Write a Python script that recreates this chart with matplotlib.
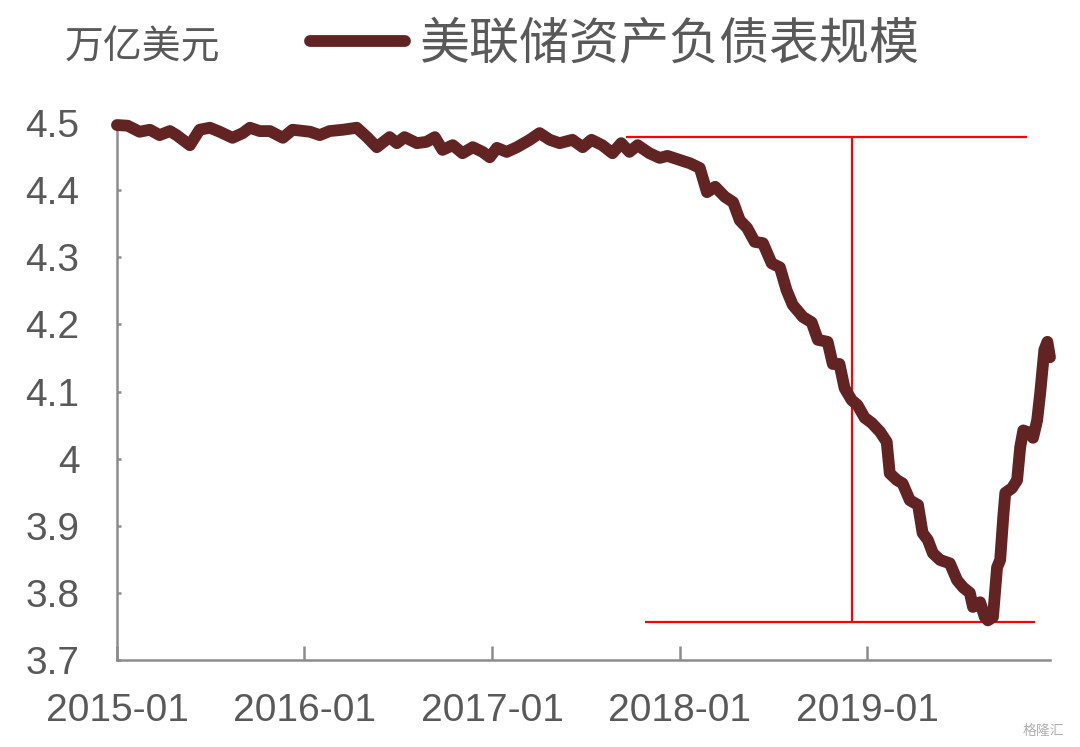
import pandas as pd
import numpy as np
import matplotlib
matplotlib.use('Agg')
import matplotlib.pyplot as plt
import matplotlib.dates as mdates

# 美联储资产负债表规模 (万亿美元)
dates = ['2015-01-01', '2015-01-22', '2015-02-14', '2015-03-06', '2015-03-25', '2015-04-14',
         '2015-04-27', '2015-05-23', '2015-06-11', '2015-07-01', '2015-07-20', '2015-08-14',
         '2015-09-03', '2015-09-17', '2015-10-06', '2015-10-26', '2015-11-20', '2015-12-09',
         '2016-01-12', '2016-01-31', '2016-02-19', '2016-03-16', '2016-04-12', '2016-05-02',
         '2016-05-21', '2016-06-15', '2016-06-29', '2016-07-14', '2016-08-07', '2016-08-26',
         '2016-09-11', '2016-09-26', '2016-10-16', '2016-11-04', '2016-11-24', '2016-12-13',
         '2016-12-27', '2017-01-10', '2017-01-29', '2017-02-18', '2017-03-15', '2017-04-03',
         '2017-04-23', '2017-05-12', '2017-06-06', '2017-06-26', '2017-07-13', '2017-08-03',
         '2017-08-23', '2017-09-09', '2017-09-25', '2017-10-11', '2017-11-03', '2017-11-23',
         '2017-12-08', '2018-01-01', '2018-01-21', '2018-02-09', '2018-02-23', '2018-03-11',
         '2018-03-30', '2018-04-15', '2018-04-28', '2018-05-12', '2018-05-27', '2018-06-12',
         '2018-06-29', '2018-07-15', '2018-07-28', '2018-08-09', '2018-08-29', '2018-09-15',
         '2018-09-27', '2018-10-16', '2018-10-26', '2018-11-08', '2018-11-18', '2018-12-02',
         '2018-12-13', '2018-12-27', '2019-01-10', '2019-01-26', '2019-02-08', '2019-02-14',
         '2019-02-28', '2019-03-11', '2019-03-25', '2019-04-10', '2019-04-19', '2019-04-29',
         '2019-05-09', '2019-05-23', '2019-06-11', '2019-06-25', '2019-07-07', '2019-07-20',
         '2019-07-26', '2019-08-09', '2019-08-18', '2019-08-24', '2019-09-03', '2019-09-11',
         '2019-09-17', '2019-09-23', '2019-09-27', '2019-10-10', '2019-10-20', '2019-10-26',
         '2019-11-01', '2019-11-14', '2019-11-20', '2019-11-28', '2019-12-04', '2019-12-12',
         '2019-12-18', '2019-12-23']
values = [4.497, 4.496, 4.487, 4.490, 4.482, 4.488,
          4.482, 4.467, 4.490, 4.493, 4.487, 4.478,
          4.485, 4.493, 4.488, 4.488, 4.478, 4.490,
          4.487, 4.482, 4.488, 4.490, 4.493, 4.479,
          4.464, 4.479, 4.470, 4.479, 4.470, 4.472,
          4.479, 4.460, 4.467, 4.455, 4.464, 4.457,
          4.449, 4.463, 4.457, 4.464, 4.475, 4.485,
          4.475, 4.470, 4.475, 4.464, 4.475, 4.467,
          4.455, 4.470, 4.457, 4.467, 4.455, 4.448,
          4.451, 4.445, 4.440, 4.433, 4.397, 4.405,
          4.390, 4.382, 4.355, 4.344, 4.323, 4.321,
          4.291, 4.285, 4.251, 4.229, 4.211, 4.203,
          4.177, 4.174, 4.141, 4.141, 4.105, 4.087,
          4.080, 4.061, 4.053, 4.040, 4.025, 3.978,
          3.968, 3.963, 3.938, 3.931, 3.889, 3.879,
          3.859, 3.849, 3.844, 3.819, 3.808, 3.800,
          3.779, 3.786, 3.764, 3.759, 3.764, 3.838,
          3.849, 3.913, 3.949, 3.956, 3.968, 4.017,
          4.042, 4.038, 4.031, 4.057, 4.098, 4.162,
          4.174, 4.151]

# red reference lines: peak level, trough level, and the span marker
top_level = 4.479
top_span = ['2017-09-18', '2019-11-08']
bottom_level = 3.756
bottom_span = ['2017-10-25', '2019-11-24']
marker_date = '2018-12-02'

y_ticks = [3.7, 3.8, 3.9, 4.0, 4.1, 4.2, 4.3, 4.4, 4.5]
y_labels = ['3.7', '3.8', '3.9', '4', '4.1', '4.2', '4.3', '4.4', '4.5']
x_ticks = ['2015-01-01', '2016-01-01', '2017-01-01', '2018-01-01', '2019-01-01']
x_labels = ['2015-01', '2016-01', '2017-01', '2018-01', '2019-01']

series_name = '美联储资产负债表规模'
unit = '万亿美元'

cjk = ['Noto Sans CJK SC', 'DejaVu Sans']
grey = '#595959'
axis_grey = '#8c8c8c'
line_color = '#622423'

df = pd.DataFrame({'Date': pd.to_datetime(dates), 'Value': values})

fig = plt.figure(figsize=(10.8, 7.47), dpi=100)
ax = fig.add_axes([0.1083, 0.1165, 0.8639, 0.7188])

ax.hlines(top_level, pd.to_datetime(top_span[0]), pd.to_datetime(top_span[1]), color='#ff0000', lw=1.6, zorder=2)
ax.hlines(bottom_level, pd.to_datetime(bottom_span[0]), pd.to_datetime(bottom_span[1]), color='#ff0000', lw=1.6, zorder=2)
ax.vlines(pd.to_datetime(marker_date), bottom_level, top_level, color='#ff0000', lw=1.6, zorder=2)

ax.plot(df['Date'], df['Value'], color=line_color, lw=8.5, solid_capstyle='round',
        solid_joinstyle='round', label=series_name, zorder=3, clip_on=False)

ax.set_xlim(pd.to_datetime('2015-01-01'), pd.to_datetime('2019-12-23'))
ax.set_ylim(3.7, 4.5)

ax.set_yticks(y_ticks)
ax.set_yticklabels(y_labels)
ax.set_xticks(pd.to_datetime(x_ticks))
ax.set_xticklabels(x_labels)

for lab in ax.get_xticklabels() + ax.get_yticklabels():
    lab.set_fontfamily('Liberation Sans')
    lab.set_fontsize(28)
    lab.set_color(grey)

ax.tick_params(axis='x', direction='in', length=10, width=1.8, color=axis_grey, pad=24)
ax.tick_params(axis='y', direction='in', length=3, width=1.8, color=axis_grey, pad=27)

ax.spines[['top', 'right']].set_visible(False)
for s in ['left', 'bottom']:
    ax.spines[s].set_color(axis_grey)
    ax.spines[s].set_linewidth(1.8)

fig.text(0.060, 0.936, unit, fontsize=28, color=grey, family=cjk, va='center', ha='left')

leg = ax.legend(loc='center left', bbox_to_anchor=(0.287, 0.940), bbox_transform=fig.transFigure,
                frameon=False, borderpad=0, borderaxespad=0, handlelength=1.9, handletextpad=0.3,
                prop={'family': cjk, 'size': 36})
for t in leg.get_texts():
    t.set_color(grey)

fig.text(0.985, 0.012, '格隆汇', fontsize=10, color='#b0b0b0', family=cjk, ha='right', va='bottom')

fig.savefig('out.png', dpi=100)
